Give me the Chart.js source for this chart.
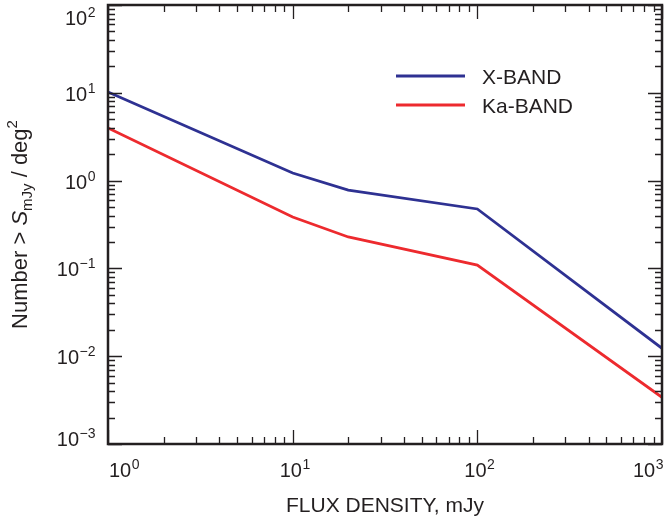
<!DOCTYPE html>
<html>
<head>
<meta charset="utf-8">
<script src="https://cdn.jsdelivr.net/npm/chart.js@4.4.1/dist/chart.umd.min.js"></script>
<style>
  html, body { margin: 0; padding: 0; background: #fff; }
</style>
</head>
<body>
<canvas id="fluxChart" width="667" height="521"></canvas>
<script>
// values (log-log)
const fluxDensity = [1, 10, 20, 100, 1000];
const xBandCounts = [10.2, 1.22, 0.78, 0.475, 0.0123];
const kaBandCounts = [3.97, 0.385, 0.228, 0.109, 0.0034];
const seriesNames = ['X-BAND', 'Ka-BAND'];
const xTickExponents = [0, 1, 2, 3];
const yTickExponents = [-3, -2, -1, 0, 1, 2];
const xAxisTitle = 'FLUX DENSITY, mJy';

const ink = '#231f20';
const face = '"Liberation Sans", Arial, Helvetica, sans-serif';

function pairs(xs, ys) {
    return xs.map((x, i) => ({ x: x, y: ys[i] }));
}

// "10" with a raised exponent; align is for the whole label
function drawPower(ctx, exp, x, cy, align) {
    const base = '10';
    const sup = exp < 0 ? '\u2212' + Math.abs(exp) : String(exp);
    ctx.font = '20px ' + face;
    const wb = ctx.measureText(base).width;
    ctx.font = '14px ' + face;
    const ws = ctx.measureText(sup).width;
    const total = wb + ws;
    let left = x - total / 2;
    if (align === 'left') left = x;
    if (align === 'right') left = x - total;
    ctx.textAlign = 'left';
    ctx.textBaseline = 'alphabetic';
    ctx.font = '20px ' + face;
    ctx.fillText(base, left, cy + 7);
    ctx.font = '14px ' + face;
    ctx.fillText(sup, left + wb + 0.5, cy - 1);
}

const framePlugin = {
    id: 'frame',
    afterDraw(chart) {
        const ctx = chart.ctx;
        const a = chart.chartArea;
        const xs = chart.scales.x;
        const ys = chart.scales.y;
        ctx.save();
        ctx.fillStyle = ink;
        ctx.strokeStyle = ink;

        // ticks on all four sides, pointing in
        ctx.lineWidth = 1.3;
        ctx.beginPath();
        for (let d = -1; d <= 3; d++) {
            for (let m = 1; m <= 9; m++) {
                const v = m * Math.pow(10, d);
                if (v < xs.min || v > xs.max) continue;
                const px = Math.round(xs.getPixelForValue(v)) + 0.5;
                const len = m === 1 ? 14 : 7;
                ctx.moveTo(px, a.bottom); ctx.lineTo(px, a.bottom - len);
                ctx.moveTo(px, a.top); ctx.lineTo(px, a.top + len);
            }
        }
        for (let d = -3; d <= 2; d++) {
            for (let m = 1; m <= 9; m++) {
                const v = m * Math.pow(10, d);
                if (v < ys.min * 0.999 || v > ys.max * 1.001) continue;
                const py = Math.round(ys.getPixelForValue(v)) + 0.5;
                const len = m === 1 ? 14 : 7;
                ctx.moveTo(a.left, py); ctx.lineTo(a.left + len, py);
                ctx.moveTo(a.right, py); ctx.lineTo(a.right - len, py);
            }
        }
        ctx.stroke();

        // frame
        ctx.lineWidth = 2.5;
        ctx.strokeRect(a.left, a.top, a.right - a.left, a.bottom - a.top);

        // x tick labels
        xTickExponents.forEach((e, i) => {
            const px = xs.getPixelForValue(Math.pow(10, e));
            let align = 'center', x = px + 2;
            if (i === 0) { align = 'left'; x = a.left + 1; }
            if (i === xTickExponents.length - 1) { align = 'right'; x = a.right + 1; }
            drawPower(ctx, e, x, a.bottom + 26, align);
        });

        // y tick labels
        yTickExponents.forEach(e => {
            const py = ys.getPixelForValue(Math.pow(10, e));
            const cy = Math.min(Math.max(py + 1, a.top + 12.5), a.bottom - 5);
            drawPower(ctx, e, a.left - 13, cy, 'right');
        });

        // x title
        ctx.font = '21px ' + face;
        ctx.textAlign = 'center';
        ctx.textBaseline = 'alphabetic';
        ctx.fillText(xAxisTitle, (a.left + a.right) / 2, a.bottom + 68);

        // y title with subscript and superscript
        const parts = [
            { t: 'Number > ', f: '22px ' + face, dy: 0 },
            { t: 'S', f: 'italic 22px ' + face, dy: 0 },
            { t: 'mJy', f: '15px ' + face, dy: 5 },
            { t: ' / deg', f: '22px ' + face, dy: 0 },
            { t: '2', f: '15px ' + face, dy: -10 }
        ];
        let total = 0;
        parts.forEach(p => { ctx.font = p.f; p.w = ctx.measureText(p.t).width; total += p.w; });
        ctx.translate(27, (a.top + a.bottom) / 2);
        ctx.rotate(-Math.PI / 2);
        ctx.textAlign = 'left';
        let cx = -total / 2;
        parts.forEach(p => {
            ctx.font = p.f;
            ctx.fillText(p.t, cx, p.dy);
            cx += p.w;
        });
        ctx.setTransform(1, 0, 0, 1, 0, 0);

        // legend
        const lx = a.left + 288;
        const ly = a.top + 71;
        chart.data.datasets.forEach((ds, i) => {
            const y = ly + i * 29;
            ctx.strokeStyle = ds.borderColor;
            ctx.lineWidth = 3;
            ctx.beginPath();
            ctx.moveTo(lx, y); ctx.lineTo(lx + 69, y);
            ctx.stroke();
            ctx.fillStyle = ink;
            ctx.font = '21px ' + face;
            ctx.textAlign = 'left';
            ctx.textBaseline = 'alphabetic';
            ctx.fillText(ds.label, lx + 86, y + 7.5);
        });
        ctx.restore();
    }
};

const ctx = document.getElementById('fluxChart').getContext('2d');
const fluxChart = new Chart(ctx, {
    type: 'line',
    data: {
        datasets: [{
            label: seriesNames[0],
            data: pairs(fluxDensity, xBandCounts),
            borderColor: '#2e3192',
            borderWidth: 2.8,
            pointRadius: 0,
            tension: 0,
            fill: false
        }, {
            label: seriesNames[1],
            data: pairs(fluxDensity, kaBandCounts),
            borderColor: '#ed2a2e',
            borderWidth: 2.8,
            pointRadius: 0,
            tension: 0,
            fill: false
        }]
    },
    options: {
        responsive: false,
        animation: false,
        devicePixelRatio: 1,
        layout: { padding: { top: 5, right: 5, left: 0, bottom: 0 } },
        plugins: {
            legend: { display: false },
            tooltip: { enabled: false }
        },
        scales: {
            x: {
                type: 'logarithmic',
                min: 1,
                max: 1000,
                grid: { display: false },
                border: { display: false },
                ticks: { display: false },
                afterFit: function(scale) { scale.height = 77; }
            },
            y: {
                type: 'logarithmic',
                min: 0.001,
                max: 100,
                grid: { display: false },
                border: { display: false },
                ticks: { display: false },
                afterFit: function(scale) { scale.width = 108; }
            }
        }
    },
    plugins: [framePlugin]
});
</script>
</body>
</html>
